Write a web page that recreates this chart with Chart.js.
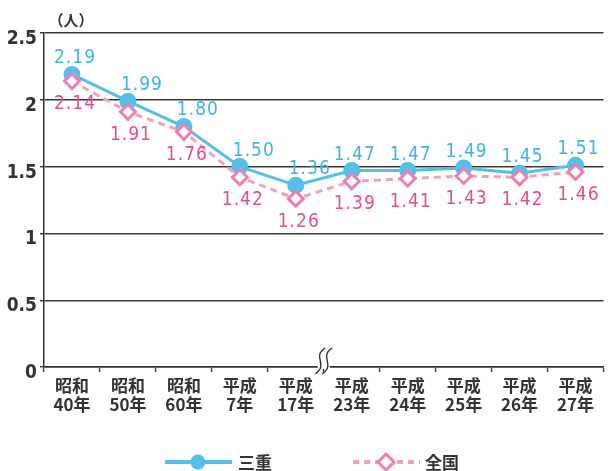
<!DOCTYPE html>
<html>
<head>
<meta charset="utf-8">
<script src="https://cdn.jsdelivr.net/npm/chart.js@4.4.1/dist/chart.umd.min.js"></script>
<style>
  body { margin: 0; background: #fff; }
  #wrap { width: 614px; height: 471px; position: relative; }
</style>
</head>
<body>
<div id="wrap"><canvas id="chart"></canvas></div>
<script>
// 合計特殊出生率の推移 (三重 / 全国)
const periods = [
  ["昭和", "40年"], ["昭和", "50年"], ["昭和", "60年"], ["平成", "7年"], ["平成", "17年"],
  ["平成", "23年"], ["平成", "24年"], ["平成", "25年"], ["平成", "26年"], ["平成", "27年"]
];
const mie = [2.19, 1.99, 1.80, 1.50, 1.36, 1.47, 1.47, 1.49, 1.45, 1.51];
const zenkoku = [2.14, 1.91, 1.76, 1.42, 1.26, 1.39, 1.41, 1.43, 1.42, 1.46];
const yTicks = [0, 0.5, 1, 1.5, 2, 2.5];
const seriesNames = ["三重", "全国"];
const unitText = "（人）";
const breakAfter = 4; // 平成17年 と 平成23年 の間の省略記号

const blue = "#55bfea";
const blueText = "#3fb3e4";
const pinkLine = "#f39fc5";
const pinkMark = "#ee7fb0";
const pinkText = "#e64d8e";
const ink = "#333333";
const numFont = "'DejaVu Sans Condensed', 'DejaVu Sans', sans-serif";
const jpFont = "'Noto Sans CJK JP', sans-serif";

// 数値ラベル
const valueLabels = {
  id: "valueLabels",
  afterDatasetsDraw(chart) {
    const ctx = chart.ctx;
    ctx.save();
    ctx.font = "19px " + numFont;
    ctx.letterSpacing = "1px";
    ctx.textAlign = "center";
    ctx.textBaseline = "middle";
    chart.data.datasets.forEach((ds, di) => {
      const meta = chart.getDatasetMeta(di);
      meta.data.forEach((pt, i) => {
        const v = ds.data[i];
        if (di === 0) {
          const drop = i > 0 && ds.data[i - 1] - v > 0.1 ? 11 : 0;
          ctx.fillStyle = blueText;
          ctx.fillText(v.toFixed(2), pt.x + drop + 3, pt.y - 16);
        } else {
          ctx.fillStyle = pinkText;
          ctx.fillText(v.toFixed(2), pt.x + 3, pt.y + 23);
        }
      });
    });
    ctx.restore();
  }
};

// 軸の省略記号・単位・凡例
const decorations = {
  id: "decorations",
  afterDraw(chart) {
    const ctx = chart.ctx;
    const xs = chart.scales.x;
    const y0 = chart.scales.y.getPixelForValue(0);
    const bx = (xs.getPixelForValue(breakAfter) + xs.getPixelForValue(breakAfter + 1)) / 2;
    ctx.save();
    ctx.fillStyle = "#fff";
    ctx.fillRect(bx - 6, y0 - 2, 12, 4);
    ctx.strokeStyle = ink;
    ctx.lineWidth = 1.4;
    [-3.5, 3.5].forEach(off => {
      ctx.beginPath();
      ctx.moveTo(bx + off + 5, y0 - 19);
      ctx.bezierCurveTo(bx + off - 9, y0 - 10, bx + off + 9, y0 - 3, bx + off - 5, y0 + 7);
      ctx.stroke();
    });

    ctx.fillStyle = ink;
    ctx.font = "bold 15px " + jpFont;
    ctx.textAlign = "center";
    ctx.textBaseline = "middle";
    ctx.fillText(unitText, 71, 20);

    // 凡例
    const cx = chart.width / 2;
    const ly = 462;
    ctx.lineWidth = 4;
    ctx.strokeStyle = blue;
    ctx.beginPath();
    ctx.moveTo(cx - 142, ly);
    ctx.lineTo(cx - 75, ly);
    ctx.stroke();
    ctx.fillStyle = blue;
    ctx.beginPath();
    ctx.arc(cx - 109, ly, 7.5, 0, Math.PI * 2);
    ctx.fill();

    ctx.strokeStyle = pinkLine;
    ctx.setLineDash([6, 5]);
    ctx.beginPath();
    ctx.moveTo(cx + 46, ly);
    ctx.lineTo(cx + 113, ly);
    ctx.stroke();
    ctx.setLineDash([]);
    ctx.fillStyle = "#fff";
    ctx.strokeStyle = pinkMark;
    ctx.lineWidth = 3;
    ctx.beginPath();
    ctx.moveTo(cx + 79, ly - 8);
    ctx.lineTo(cx + 87, ly);
    ctx.lineTo(cx + 79, ly + 8);
    ctx.lineTo(cx + 71, ly);
    ctx.closePath();
    ctx.fill();
    ctx.stroke();

    ctx.fillStyle = ink;
    ctx.font = "bold 17px " + jpFont;
    ctx.textAlign = "left";
    ctx.fillText(seriesNames[0], cx - 69, ly + 1);
    ctx.fillText(seriesNames[1], cx + 118, ly + 1);
    ctx.restore();
  }
};

new Chart(document.getElementById("chart"), {
  type: "line",
  data: {
    labels: periods,
    datasets: [
      {
        label: seriesNames[0],
        data: mie,
        borderColor: blue,
        backgroundColor: blue,
        borderWidth: 3,
        pointStyle: "circle",
        pointRadius: 7,
        pointBackgroundColor: blue,
        pointBorderColor: blue,
        tension: 0,
        order: 2
      },
      {
        label: seriesNames[1],
        data: zenkoku,
        borderColor: pinkLine,
        borderWidth: 3,
        borderDash: [7, 5],
        pointStyle: "rectRot",
        pointRadius: 7.5,
        pointBorderWidth: 3,
        pointBackgroundColor: "#ffffff",
        pointBorderColor: pinkMark,
        tension: 0,
        order: 1
      }
    ]
  },
  options: {
    responsive: true,
    maintainAspectRatio: false,
    animation: false,
    layout: { padding: { top: 33, right: 0, bottom: 44, left: 0 } },
    plugins: {
      legend: { display: false },
      tooltip: { enabled: false }
    },
    scales: {
      x: {
        offset: true,
        grid: {
          offset: true,
          drawOnChartArea: false,
          tickLength: 5,
          tickColor: ink,
          tickWidth: 1.3
        },
        border: { color: ink, width: 1.5 },
        ticks: {
          color: ink,
          padding: 4,
          maxRotation: 0,
          autoSkip: false,
          font: { family: jpFont, size: 17, weight: "bold", lineHeight: 1.1 }
        },
        afterFit(scale) { scale.height = 60; }
      },
      y: {
        min: 0,
        max: 2.5,
        afterBuildTicks(scale) {
          scale.ticks = yTicks.map(v => ({ value: v }));
        },
        grid: {
          color: "#3a3a3a",
          lineWidth: 1.4,
          tickLength: 4,
          tickColor: ink
        },
        border: { color: ink, width: 1.5 },
        ticks: {
          color: ink,
          padding: 3,
          labelOffset: 6,
          font: { family: numFont, size: 19, weight: "bold" },
          callback: v => String(v)
        },
        afterFit(scale) { scale.width = 44; }
      }
    }
  },
  plugins: [valueLabels, decorations]
});
</script>
</body>
</html>
